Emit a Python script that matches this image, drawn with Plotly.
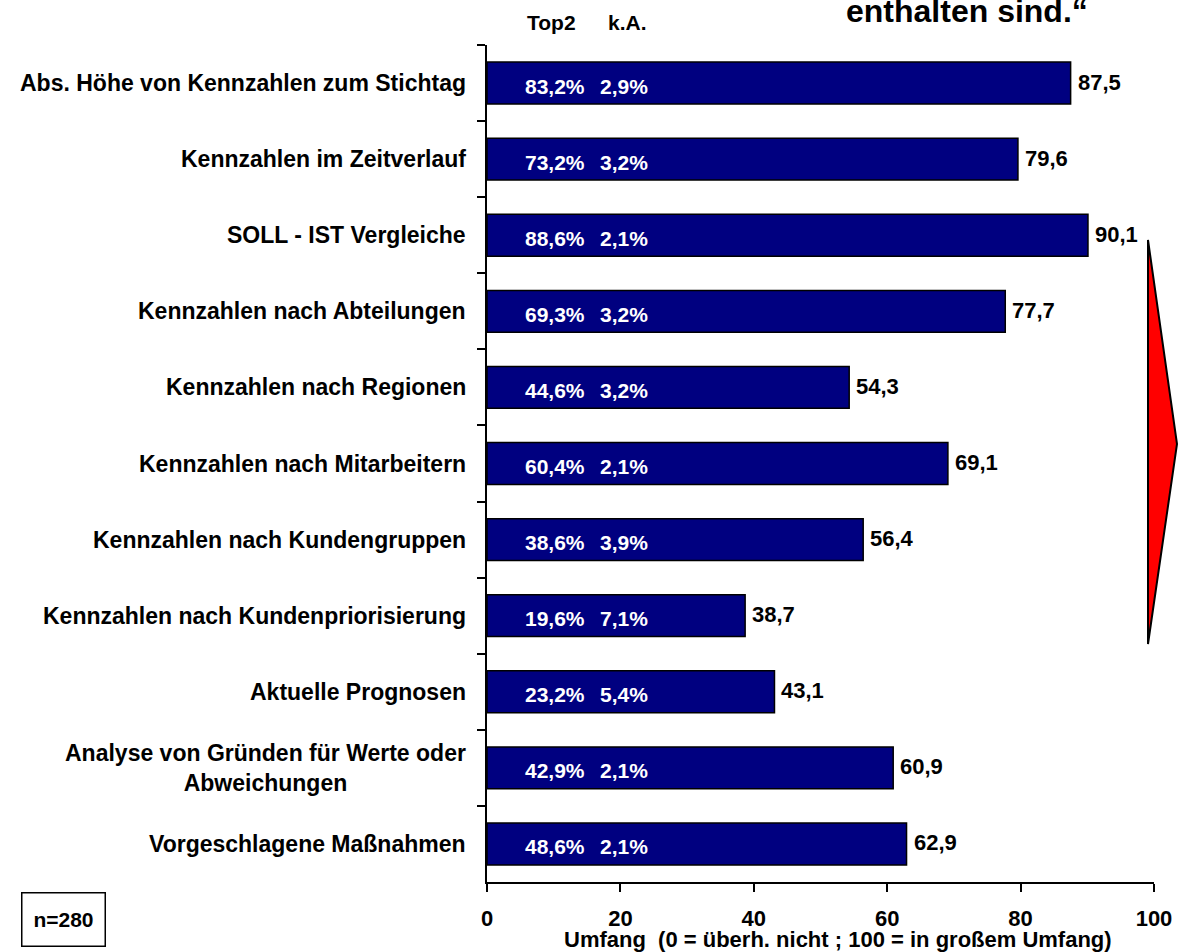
import plotly.graph_objects as go

categories = [
    "Abs. Höhe von Kennzahlen zum Stichtag",
    "Kennzahlen im Zeitverlauf",
    "SOLL - IST Vergleiche",
    "Kennzahlen nach Abteilungen",
    "Kennzahlen nach Regionen",
    "Kennzahlen nach Mitarbeitern",
    "Kennzahlen nach Kundengruppen",
    "Kennzahlen nach Kundenpriorisierung",
    "Aktuelle Prognosen",
    "Analyse von Gründen für Werte oder<br>Abweichungen",
    "Vorgeschlagene Maßnahmen",
]
means = [87.5, 79.6, 90.1, 77.7, 54.3, 69.1, 56.4, 38.7, 43.1, 60.9, 62.9]
top2 = [83.2, 73.2, 88.6, 69.3, 44.6, 60.4, 38.6, 19.6, 23.2, 42.9, 48.6]
ka = [2.9, 3.2, 2.1, 3.2, 3.2, 2.1, 3.9, 7.1, 5.4, 2.1, 2.1]
x_ticks = [0, 20, 40, 60, 80, 100]

FONT = "Arial, Liberation Sans, sans-serif"
OFF = 0  # body margin removed via post_script
W, H = 1178, 952
# plot area in screen pixels: x 487..1154, y 45..882
SL, SR, ST, SB = 487, 1154, 45, 882
L, T = SL - OFF, ST - OFF
R, B = W - (SR - OFF), H - (SB - OFF)
PW, PH = W - L - R, H - T - B


def fmt(v):
    return f"{v:.1f}".replace(".", ",")


def px_x(px):
    return (px - SL) / PW


def px_y(py):
    return (SB - py) / PH


fig = go.Figure()
fig.add_trace(go.Bar(
    y=categories, x=means, orientation="h", width=0.55,
    marker=dict(color="#000080", line=dict(color="black", width=1.5)),
    hoverinfo="skip",
))

ann = []
for c, m, t, k in zip(categories, means, top2, ka):
    ann.append(dict(x=0, xref="paper", y=c, yref="y", text=f"<b>{c}</b>",
                    xanchor="right", yanchor="middle", align="center", xshift=-19,
                    showarrow=False, font=dict(family=FONT, size=23, color="black")))
    ann.append(dict(x=m, xref="x", y=c, yref="y", text=f"<b>{fmt(m)}</b>",
                    xanchor="left", yanchor="middle", xshift=5, yshift=1,
                    showarrow=False, font=dict(family=FONT, size=22, color="black")))
    ann.append(dict(x=10.2, xref="x", y=c, yref="y", text=f"<b>{fmt(t)}%</b>",
                    xanchor="center", yanchor="middle", yshift=-3,
                    showarrow=False, font=dict(family=FONT, size=21, color="white")))
    ann.append(dict(x=20.5, xref="x", y=c, yref="y", text=f"<b>{fmt(k)}%</b>",
                    xanchor="center", yanchor="middle", yshift=-3,
                    showarrow=False, font=dict(family=FONT, size=21, color="white")))

# column headers
ann.append(dict(x=9.6, xref="x", y=px_y(22), yref="paper", text="<b>Top2</b>",
                xanchor="center", yanchor="middle", showarrow=False,
                font=dict(family=FONT, size=21, color="black")))
ann.append(dict(x=21.0, xref="x", y=px_y(22), yref="paper", text="<b>k.A.</b>",
                xanchor="center", yanchor="middle", showarrow=False,
                font=dict(family=FONT, size=21, color="black")))
# title fragment
ann.append(dict(x=px_x(967), xref="paper", y=px_y(11), yref="paper",
                text="<b>enthalten sind.“</b>", xanchor="center", yanchor="middle",
                showarrow=False, font=dict(family=FONT, size=32, color="black")))
# axis title
ann.append(dict(x=px_x(838), xref="paper", y=px_y(939), yref="paper",
                text="<b>Umfang  (0 = überh. nicht ; 100 = in großem Umfang)</b>",
                xanchor="center", yanchor="middle", showarrow=False,
                font=dict(family=FONT, size=22, color="black")))
# n box
ann.append(dict(x=px_x(63.5), xref="paper", y=px_y(919), yref="paper",
                text="<b>n=280</b>", xanchor="center", yanchor="middle",
                width=80, height=50, bordercolor="black", borderwidth=1.5,
                showarrow=False, font=dict(family=FONT, size=21, color="black")))

shapes = [dict(
    type="path", xref="paper", yref="paper",
    path=f"M {px_x(1148)} {px_y(240)} L {px_x(1177)} {px_y(444)} L {px_x(1148)} {px_y(644)} Z",
    fillcolor="#ff0000", line=dict(color="black", width=2),
)]

fig.update_layout(
    width=W, height=H,
    margin=dict(l=L, r=R, t=T, b=B, autoexpand=False),
    plot_bgcolor="white", paper_bgcolor="white",
    showlegend=False,
    annotations=ann, shapes=shapes,
    xaxis=dict(range=[0, 100], tickvals=x_ticks, ticktext=[f"<b>{v}</b>" for v in x_ticks],
               ticks="outside", ticklen=8, tickwidth=2, tickcolor="black", automargin=False,
               showline=True, linecolor="black", linewidth=2, showgrid=False, zeroline=False,
               tickfont=dict(family=FONT, size=22, color="black"), ticklabelstandoff=8),
    yaxis=dict(autorange=False, range=[10.5, -0.5], type="category", automargin=False,
               tickson="boundaries", ticks="outside", ticklen=8, tickwidth=1.5, tickcolor="black",
               showticklabels=False, showline=True, linecolor="black", linewidth=2,
               showgrid=False, zeroline=False),
    bargap=0.45,
)

fig.write_html("out.html", config={"displayModeBar": False},
               post_script="document.body.style.margin='0';document.body.style.overflow='hidden';")
